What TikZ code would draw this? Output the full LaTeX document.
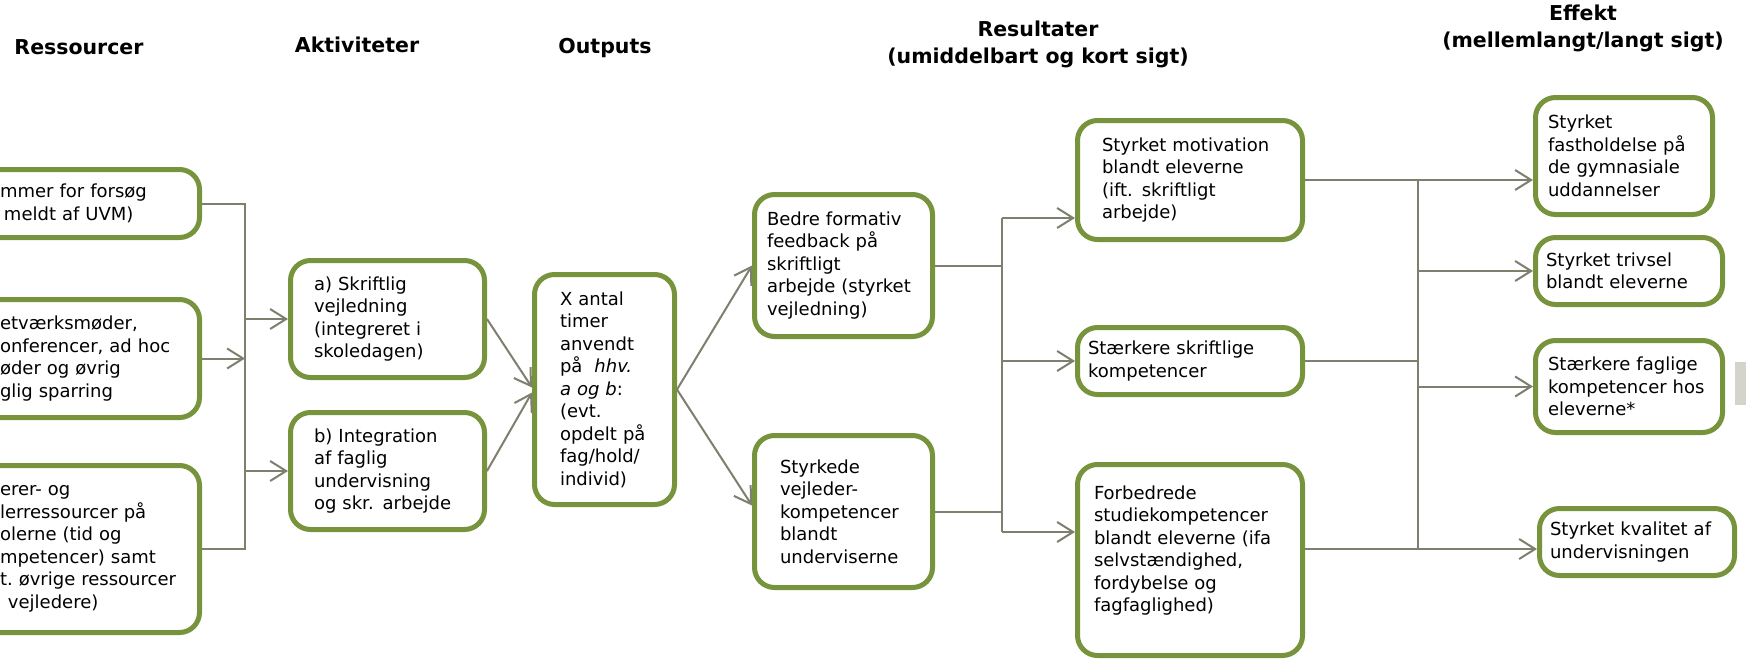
\documentclass[tikz,border=0pt]{standalone}
\usepackage{fontspec}
\setmainfont{DejaVu Sans}
\usepackage{tikz}
\usetikzlibrary{arrows.meta}
\definecolor{boksgroen}{RGB}{119,147,60}
\definecolor{pilgraa}{RGB}{127,127,111}
\definecolor{kantgraa}{RGB}{212,212,204}

\begin{document}
\begin{tikzpicture}[
    x=1pt, y=-1pt,
    boks/.style={rectangle, draw=boksgroen, fill=white, line width=5pt, rounded corners=20pt, align=left, inner ysep=0pt, font=\fontsize{18}{22.5}\selectfont},
    overskrift/.style={align=center, font=\bfseries\fontsize{20.5}{27}\selectfont},
    linje/.style={draw=pilgraa, line width=2pt},
    pil/.style={linje, -{Straight Barb[length=16pt, width=20pt]}}
]
    \fill[white] (0,0) rectangle (1746,661);
    \useasboundingbox (0,0) rectangle (1746,661);

    % Overskrifter
    \node[overskrift] (hres) at (79,47) {Ressourcer};
    \node[overskrift] (hakt) at (357,45) {Aktiviteter};
    \node[overskrift] (hout) at (605,48) {Outputs};
    \node[overskrift] (hresu) at (1038,44.5) {Resultater\\(umiddelbart og kort sigt)};
    \node[overskrift] (heff) at (1583,28.5) {Effekt\\(mellemlangt/langt sigt)};

    % Bokse
    \node[boks, text width=162pt, inner xsep=37.5pt, minimum height=68pt] (r1) at (81,203.5) {mmer~for~forsøg\\\hspace*{4pt}meldt af UVM)};
    \node[boks, text width=162pt, inner xsep=37.5pt, minimum height=118pt] (r2) at (81,358.5) {etværksmøder,\\onferencer,~ad~hoc\\øder og øvrig\\glig sparring};
    \node[boks, text width=162pt, inner xsep=37.5pt, minimum height=167pt] (r3) at (81,549) {erer- og\\lerressourcer~på\\olerne (tid og\\mpetencer)~samt\\t.~øvrige~ressourcer\\\hspace*{8pt}vejledere)};
    \node[boks, text width=147pt, inner xsep=23.5pt, minimum height=117pt] (a1) at (387.5,319) {a) Skriftlig\\vejledning\\(integreret i\\skoledagen)};
    \node[boks, text width=147pt, inner xsep=23.5pt, minimum height=117pt] (a2) at (387.5,471) {b) Integration\\af faglig\\undervisning\\og skr. arbejde};
    \node[boks, text width=89pt, inner xsep=25.5pt, minimum height=230pt] (out) at (604.5,389.5) {X antal\\timer\\anvendt\\på~~\textit{hhv.}\\\textit{a og b}:\\(evt.\\opdelt~på\\fag/hold/\\individ)};
    \node[boks, text width=153pt, inner xsep=12.5pt, minimum height=142pt] (b1) at (843.5,265.5) {Bedre formativ\\feedback på\\skriftligt\\arbejde~(styrket\\vejledning)};
    \node[boks, text width=127pt, inner xsep=25.5pt, minimum height=152pt] (b2) at (843.5,511.5) {Styrkede\\vejleder-\\kompetencer\\blandt\\underviserne};
    \node[boks, text width=176pt, inner xsep=24.5pt, minimum height=119pt] (c1) at (1190,180) {Styrket~motivation\\blandt eleverne\\(ift. skriftligt\\arbejde)};
    \node[boks, text width=204pt, inner xsep=10.5pt, minimum height=67pt] (c2) at (1190,361) {Stærkere skriftlige\\kompetencer};
    \node[boks, text width=192pt, inner xsep=16.5pt, minimum height=191pt] (c3) at (1190,560) {Forbedrede\\studiekompetencer\\blandt~eleverne~(ifa\\selvstændighed,\\fordybelse og\\fagfaglighed)\\\mbox{}};
    \node[boks, text width=152pt, inner xsep=12.5pt, minimum height=117pt] (e1) at (1624,156) {Styrket\\fastholdelse~på\\de gymnasiale\\uddannelser};
    \node[boks, text width=166pt, inner xsep=10.5pt, minimum height=67pt] (e2) at (1629,271) {Styrket trivsel\\blandt eleverne};
    \node[boks, text width=162pt, inner xsep=12.5pt, minimum height=92pt] (e3) at (1629,386.5) {Stærkere~faglige\\kompetencer~hos\\eleverne*};
    \node[boks, text width=174pt, inner xsep=10.5pt, minimum height=67pt] (e4) at (1637,542) {Styrket~kvalitet~af\\undervisningen};

    \fill[kantgraa] (1735,362) rectangle (1746,405);

    % Samleskinner
    \coordinate (vbus) at (245,0);
    \coordinate (mbus) at (1002,0);
    \coordinate (hbus) at (1418,0);
    \coordinate (c1ind) at ([yshift=-38pt]c1.west);
    \coordinate (c3ind) at ([yshift=28pt]c3.west);
    \coordinate (c3ud) at ([yshift=11pt]c3.east);

    % Pile
    \draw[linje] (r1.east) -| (vbus |- r3.east) -- (r3.east);
    \draw[pil] (r2.east) -- (r2.east -| vbus);
    \draw[pil] (vbus |- a1.west) -- (a1.west);
    \draw[pil] (vbus |- a2.west) -- (a2.west);
    \draw[pil] (a1.east) -- ([yshift=2pt]out.west);
    \draw[pil] (a2.east) -- ([yshift=-3pt]out.west);
    \draw[pil] (out.east) -- (b1.west);
    \draw[pil] (out.east) -- ([yshift=6pt]b2.west);
    \draw[linje] (b1.east) -- (b1.east -| mbus);
    \draw[linje] (b2.east) -- (b2.east -| mbus);
    \draw[linje] (mbus |- c1ind) -- (mbus |- c3ind);
    \draw[pil] (mbus |- c1ind) -- (c1ind);
    \draw[pil] (mbus |- c2.west) -- (c2.west);
    \draw[pil] (mbus |- c3ind) -- (c3ind);
    \draw[pil] (c1.east) -- (c1.east -| e1.west);
    \draw[pil] (c3ud) -- (c3ud -| e4.west);
    \draw[linje] (hbus |- c1.east) -- (hbus |- c3ud);
    \draw[linje] (c2.east) -- (c2.east -| hbus);
    \draw[pil] (hbus |- e2.west) -- (e2.west);
    \draw[pil] (hbus |- e3.west) -- (e3.west);
\end{tikzpicture}
\end{document}
